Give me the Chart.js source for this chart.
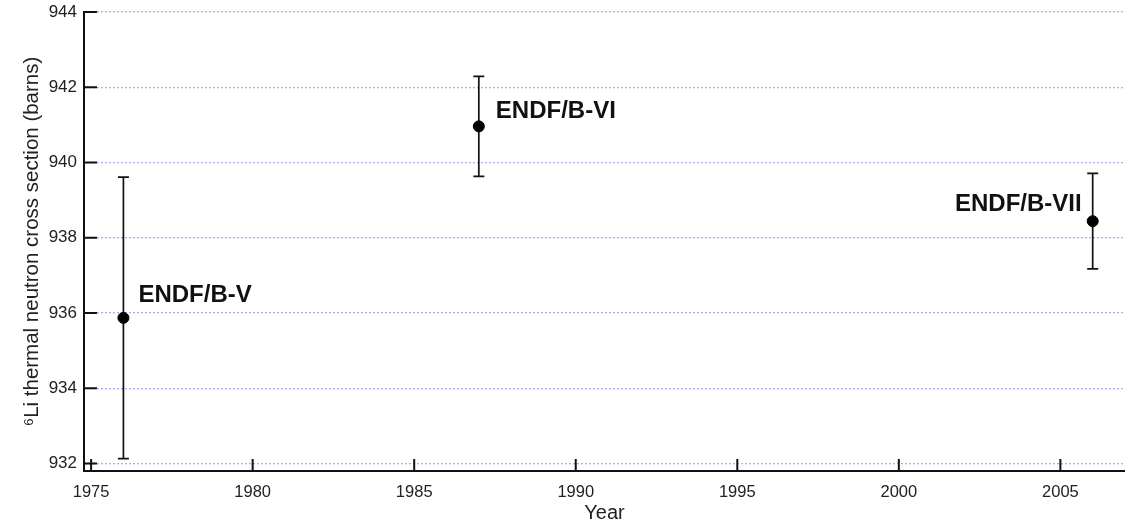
<!DOCTYPE html>
<html>
<head>
<meta charset="utf-8">
<script src="https://cdn.jsdelivr.net/npm/chart.js@4.4.1/dist/chart.umd.min.js"></script>
<style>
  html, body { margin: 0; padding: 0; background: #fff; overflow: hidden; }
  #wrap { width: 1125px; height: 525px; }
  canvas { display: block; }
</style>
</head>
<body>
<div id="wrap"><canvas id="xsChart" width="1125" height="525"></canvas></div>
<script>
// ===== 資料 =====
const years = [1976, 1987, 2006];
const xsValues = [935.87, 940.96, 938.44];   // barns
const xsErrors = [3.74, 1.33, 1.27];
const libNames = ["ENDF/B-V", "ENDF/B-VI", "ENDF/B-VII"];
const xTickValues = [1975, 1980, 1985, 1990, 1995, 2000, 2005];
const yTickValues = [932, 934, 936, 938, 940, 942, 944];

// 標籤相對於資料點的位移（樣式，不是資料）
const labelStyle = [
  { dx: 15, dy: -22, align: "left" },
  { dx: 17, dy: -15, align: "left" },
  { dx: -11, dy: -17, align: "right" }
];

const FONT = "'Liberation Sans', Arial, sans-serif";
const TEXT = "#222";

// ===== 誤差棒、內向刻度、標籤 =====
const extrasPlugin = {
  id: "extras",
  beforeDatasetsDraw(chart) {
    const { ctx, scales: { x, y } } = chart;
    ctx.save();
    ctx.strokeStyle = "#111";
    ctx.lineWidth = 1.7;
    years.forEach((yr, i) => {
      const px = x.getPixelForValue(yr);
      const top = y.getPixelForValue(xsValues[i] + xsErrors[i]);
      const bot = y.getPixelForValue(xsValues[i] - xsErrors[i]);
      ctx.beginPath();
      ctx.moveTo(px, top); ctx.lineTo(px, bot);
      ctx.moveTo(px - 5.5, top); ctx.lineTo(px + 5.5, top);
      ctx.moveTo(px - 5.5, bot); ctx.lineTo(px + 5.5, bot);
      ctx.stroke();
    });
    ctx.restore();
  },
  afterDraw(chart) {
    const { ctx, chartArea: a, scales: { x, y } } = chart;
    ctx.save();
    ctx.strokeStyle = "#111";
    ctx.lineWidth = 2;
    ctx.beginPath();
    xTickValues.forEach(v => {
      const px = x.getPixelForValue(v);
      ctx.moveTo(px, a.bottom); ctx.lineTo(px, a.bottom - 12);
    });
    yTickValues.forEach(v => {
      const py = y.getPixelForValue(v);
      ctx.moveTo(a.left, py); ctx.lineTo(a.left + 13, py);
    });
    ctx.stroke();

    ctx.fillStyle = "#111";
    ctx.font = "bold 24px " + FONT;
    ctx.textBaseline = "middle";
    years.forEach((yr, i) => {
      const s = labelStyle[i];
      ctx.textAlign = s.align;
      ctx.fillText(libNames[i], x.getPixelForValue(yr) + s.dx, y.getPixelForValue(xsValues[i]) + s.dy);
    });
    ctx.restore();
  }
};

// ===== Chart.js 設定 =====
const ctx = document.getElementById("xsChart").getContext("2d");
const xsChart = new Chart(ctx, {
  type: "scatter",
  data: {
    datasets: [{
      label: "6Li thermal cross section",
      data: years.map((yr, i) => ({ x: yr, y: xsValues[i] })),
      backgroundColor: "#000",
      borderColor: "#000",
      pointRadius: 5.5,
      pointHoverRadius: 5.5
    }]
  },
  options: {
    responsive: false,
    animation: false,
    layout: { autoPadding: false, padding: { top: 12, right: 0, left: 0, bottom: 0 } },
    plugins: {
      legend: { display: false },
      tooltip: { enabled: false }
    },
    scales: {
      x: {
        type: "linear",
        min: 1974.78,
        max: 2007,
        afterBuildTicks: s => { s.ticks = xTickValues.map(v => ({ value: v })); },
        afterFit: s => { s.height = 54; s.paddingLeft = 0; s.paddingRight = 0; },
        grid: { display: false, drawTicks: false },
        border: { display: true, color: "#111", width: 2 },
        ticks: { color: TEXT, font: { family: FONT, size: 16.5 }, padding: 12, maxRotation: 0, autoSkip: false,
                 callback: v => String(v) },
        title: { display: true, text: "Year", color: TEXT, font: { family: FONT, size: 20 }, padding: { top: 0, bottom: 0 } }
      },
      y: {
        min: 931.8,
        max: 944,
        afterBuildTicks: s => { s.ticks = yTickValues.map(v => ({ value: v })); },
        afterFit: s => { s.width = 84; s.paddingTop = 0; s.paddingBottom = 0; },
        grid: { display: true, drawTicks: false, color: "#a9a9ff", lineWidth: 1.3 },
        border: { display: true, color: "#111", width: 2, dash: [2, 2] },
        ticks: { color: TEXT, font: { family: FONT, size: 17 }, padding: 7, callback: v => String(v) },
        title: { display: true, text: "⁶Li thermal neutron cross section (barns)", color: TEXT,
                 font: { family: FONT, size: 20.5 }, padding: { top: 20, bottom: 0 } }
      }
    }
  },
  plugins: [extrasPlugin]
});
</script>
</body>
</html>
